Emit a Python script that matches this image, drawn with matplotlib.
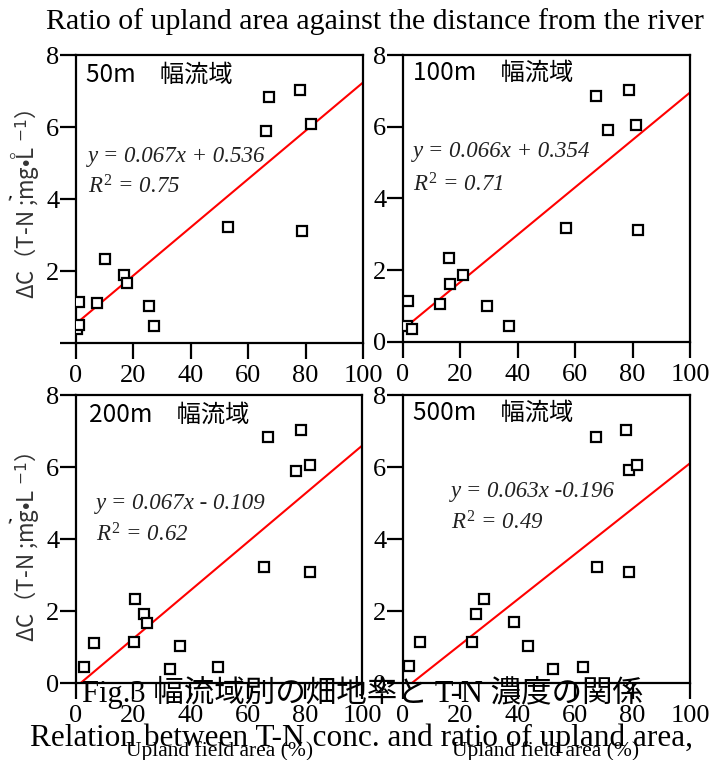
import matplotlib

matplotlib.use("Agg")
import matplotlib.pyplot as plt

plt.rcParams["font.family"] = ["Liberation Serif", "Noto Sans CJK JP", "DejaVu Sans"]
plt.rcParams["mathtext.fontset"] = "custom"
plt.rcParams["mathtext.rm"] = "Liberation Serif"
plt.rcParams["mathtext.it"] = "Liberation Serif:italic"
plt.rcParams["mathtext.sf"] = "DejaVu Sans"

# buffer width of the sub-basin (m)
buffer_widths = ["50", "100", "200", "500"]

# upland field area (%) and delta C of T-N (mg/L) per panel
upland_50 = [0.5, 1.0, 1.0, 7.4, 10.1, 16.7, 17.7, 25.4, 27.3, 53.1, 66.1, 67.2, 78.0, 78.9, 81.8]
dc_50 = [0.40, 0.50, 1.15, 1.10, 2.33, 1.89, 1.68, 1.04, 0.47, 3.21, 5.90, 6.84, 7.03, 3.11, 6.07]

upland_100 = [1.4, 1.7, 3.1, 13.0, 15.9, 16.3, 20.8, 29.2, 37.1, 56.9, 67.1, 71.6, 78.9, 81.2, 82.0]
dc_100 = [0.44, 1.14, 0.37, 1.07, 2.35, 1.63, 1.88, 1.00, 0.44, 3.19, 6.87, 5.90, 7.02, 6.04, 3.13]

upland_200 = [2.8, 6.3, 20.4, 20.6, 23.8, 24.7, 32.9, 36.2, 49.6, 65.6, 67.0, 76.9, 78.8, 81.7, 81.9]
dc_200 = [0.44, 1.11, 1.13, 2.33, 1.91, 1.68, 0.40, 1.02, 0.44, 3.23, 6.83, 5.90, 7.02, 6.06, 3.07]

upland_500 = [2.0, 6.0, 24.2, 25.5, 28.3, 38.7, 43.4, 52.4, 62.6, 67.3, 67.5, 77.6, 78.9, 81.4, 78.9]
dc_500 = [0.46, 1.13, 1.13, 1.91, 2.34, 1.69, 1.02, 0.40, 0.44, 6.83, 3.23, 7.02, 5.91, 6.05, 3.08]

# linear fits printed on the chart
slopes = [0.067, 0.066, 0.067, 0.063]
intercepts = [0.536, 0.354, -0.109, -0.196]
fit_x_start = [1.0, 3.0, 1.6, 3.1]
fit_x_end = [100, 100, 100, 100]
equations = ["y = 0.067x + 0.536", "y = 0.066x + 0.354", "y = 0.067x - 0.109", "y = 0.063x -0.196"]
r2_values = ["0.75", "0.71", "0.62", "0.49"]

x_ticks = [0, 20, 40, 60, 80, 100]
y_ticks = [0, 2, 4, 6, 8]

W, H = 715, 760
fig = plt.figure(figsize=(W / 100, H / 100), dpi=100)


def px_rect(left, top, width, height):
    return [left / W, 1 - (top + height) / H, width / W, height / H]


panels = [
    (px_rect(76, 55, 287, 288), upland_50, dc_50),
    (px_rect(403, 55, 287, 287), upland_100, dc_100),
    (px_rect(76, 395, 286, 288), upland_200, dc_200),
    (px_rect(403, 395, 287, 288), upland_500, dc_500),
]
# text anchors (data coords): panel label, equation, R2
label_pos = [(3.5, 7.44), (3.6, 7.52), (4.5, 7.44), (3.6, 7.52)]
eq_pos = [(4.2, 5.18), (3.4, 5.30), (7.0, 5.00), (16.7, 5.31)]
r2_pos = [(4.2, 4.34), (3.4, 4.37), (7.0, 4.11), (16.7, 4.45)]

for i, (rect, xs, ys) in enumerate(panels):
    ax = fig.add_axes(rect)
    ax.set_xlim(0, 100)
    ax.set_ylim(0, 8)
    ax.set_xticks(x_ticks)
    ax.set_yticks(y_ticks)
    ax.set_xticklabels([str(t) for t in x_ticks])
    if i == 0:
        ax.set_yticklabels([""] + [str(t) for t in y_ticks[1:]])
    for s in ax.spines.values():
        s.set_linewidth(1.6)
    ax.tick_params(axis="both", direction="out", length=11.5, width=1.6, labelsize=19)
    ax.tick_params(axis="y", pad=0.5)
    ax.tick_params(axis="x", pad=4)

    fx = [fit_x_start[i], fit_x_end[i]]
    fy = [slopes[i] * v + intercepts[i] for v in fx]
    ax.plot(fx, fy, color="red", lw=1.5, zorder=2)
    ax.plot(xs, ys, ls="none", marker="s", ms=7.8, mfc="white", mec="black", mew=1.6, zorder=3)

    ax.text(*label_pos[i], f"{buffer_widths[i]}m　幅流域", fontsize=17.5,
            family=["Noto Sans CJK JP", "DejaVu Sans"], ha="left", va="center")
    ax.text(*eq_pos[i], equations[i], fontsize=16.5, style="italic", ha="left", va="center", color="#222222")
    ax.text(*r2_pos[i], r"$R^2$ = " + r2_values[i], fontsize=16.5, style="italic",
            ha="left", va="center", color="#222222")

ylabel = "ΔC（T-N ;mg•L $^{\\mathsf{-1}}$）"
for yc in (204, 547):
    fig.text(27 / W, 1 - yc / H, ylabel, rotation=90, fontsize=16, ha="center", va="center",
             family=["Noto Sans CJK JP", "DejaVu Sans"], color="#333333")
fig.text(12 / W, 1 - 162 / H, "°", fontsize=13, ha="center", va="center", color="#333333")
for yc in (205, 528):
    fig.text(1 / W, 1 - yc / H, "'", fontsize=16, rotation=-20, ha="left", va="center")

fig.text(375 / W, 1 - 22 / H, "Ratio of upland area against the distance from the river",
         fontsize=21.5, ha="center", va="center")
fig.text(362 / W, 1 - 692 / H, "Fig.3 幅流域別の畑地率と T-N 濃度の関係",
         fontsize=22, ha="center", va="center")
fig.text(362 / W, 1 - 738 / H, "Relation between T-N conc. and ratio of upland area,",
         fontsize=22.5, ha="center", va="center")
for xc in (220, 546):
    fig.text(xc / W, 1 - 751 / H, "Upland field area (%)", fontsize=15.5, ha="center", va="center")

fig.savefig("out.png", dpi=100)
